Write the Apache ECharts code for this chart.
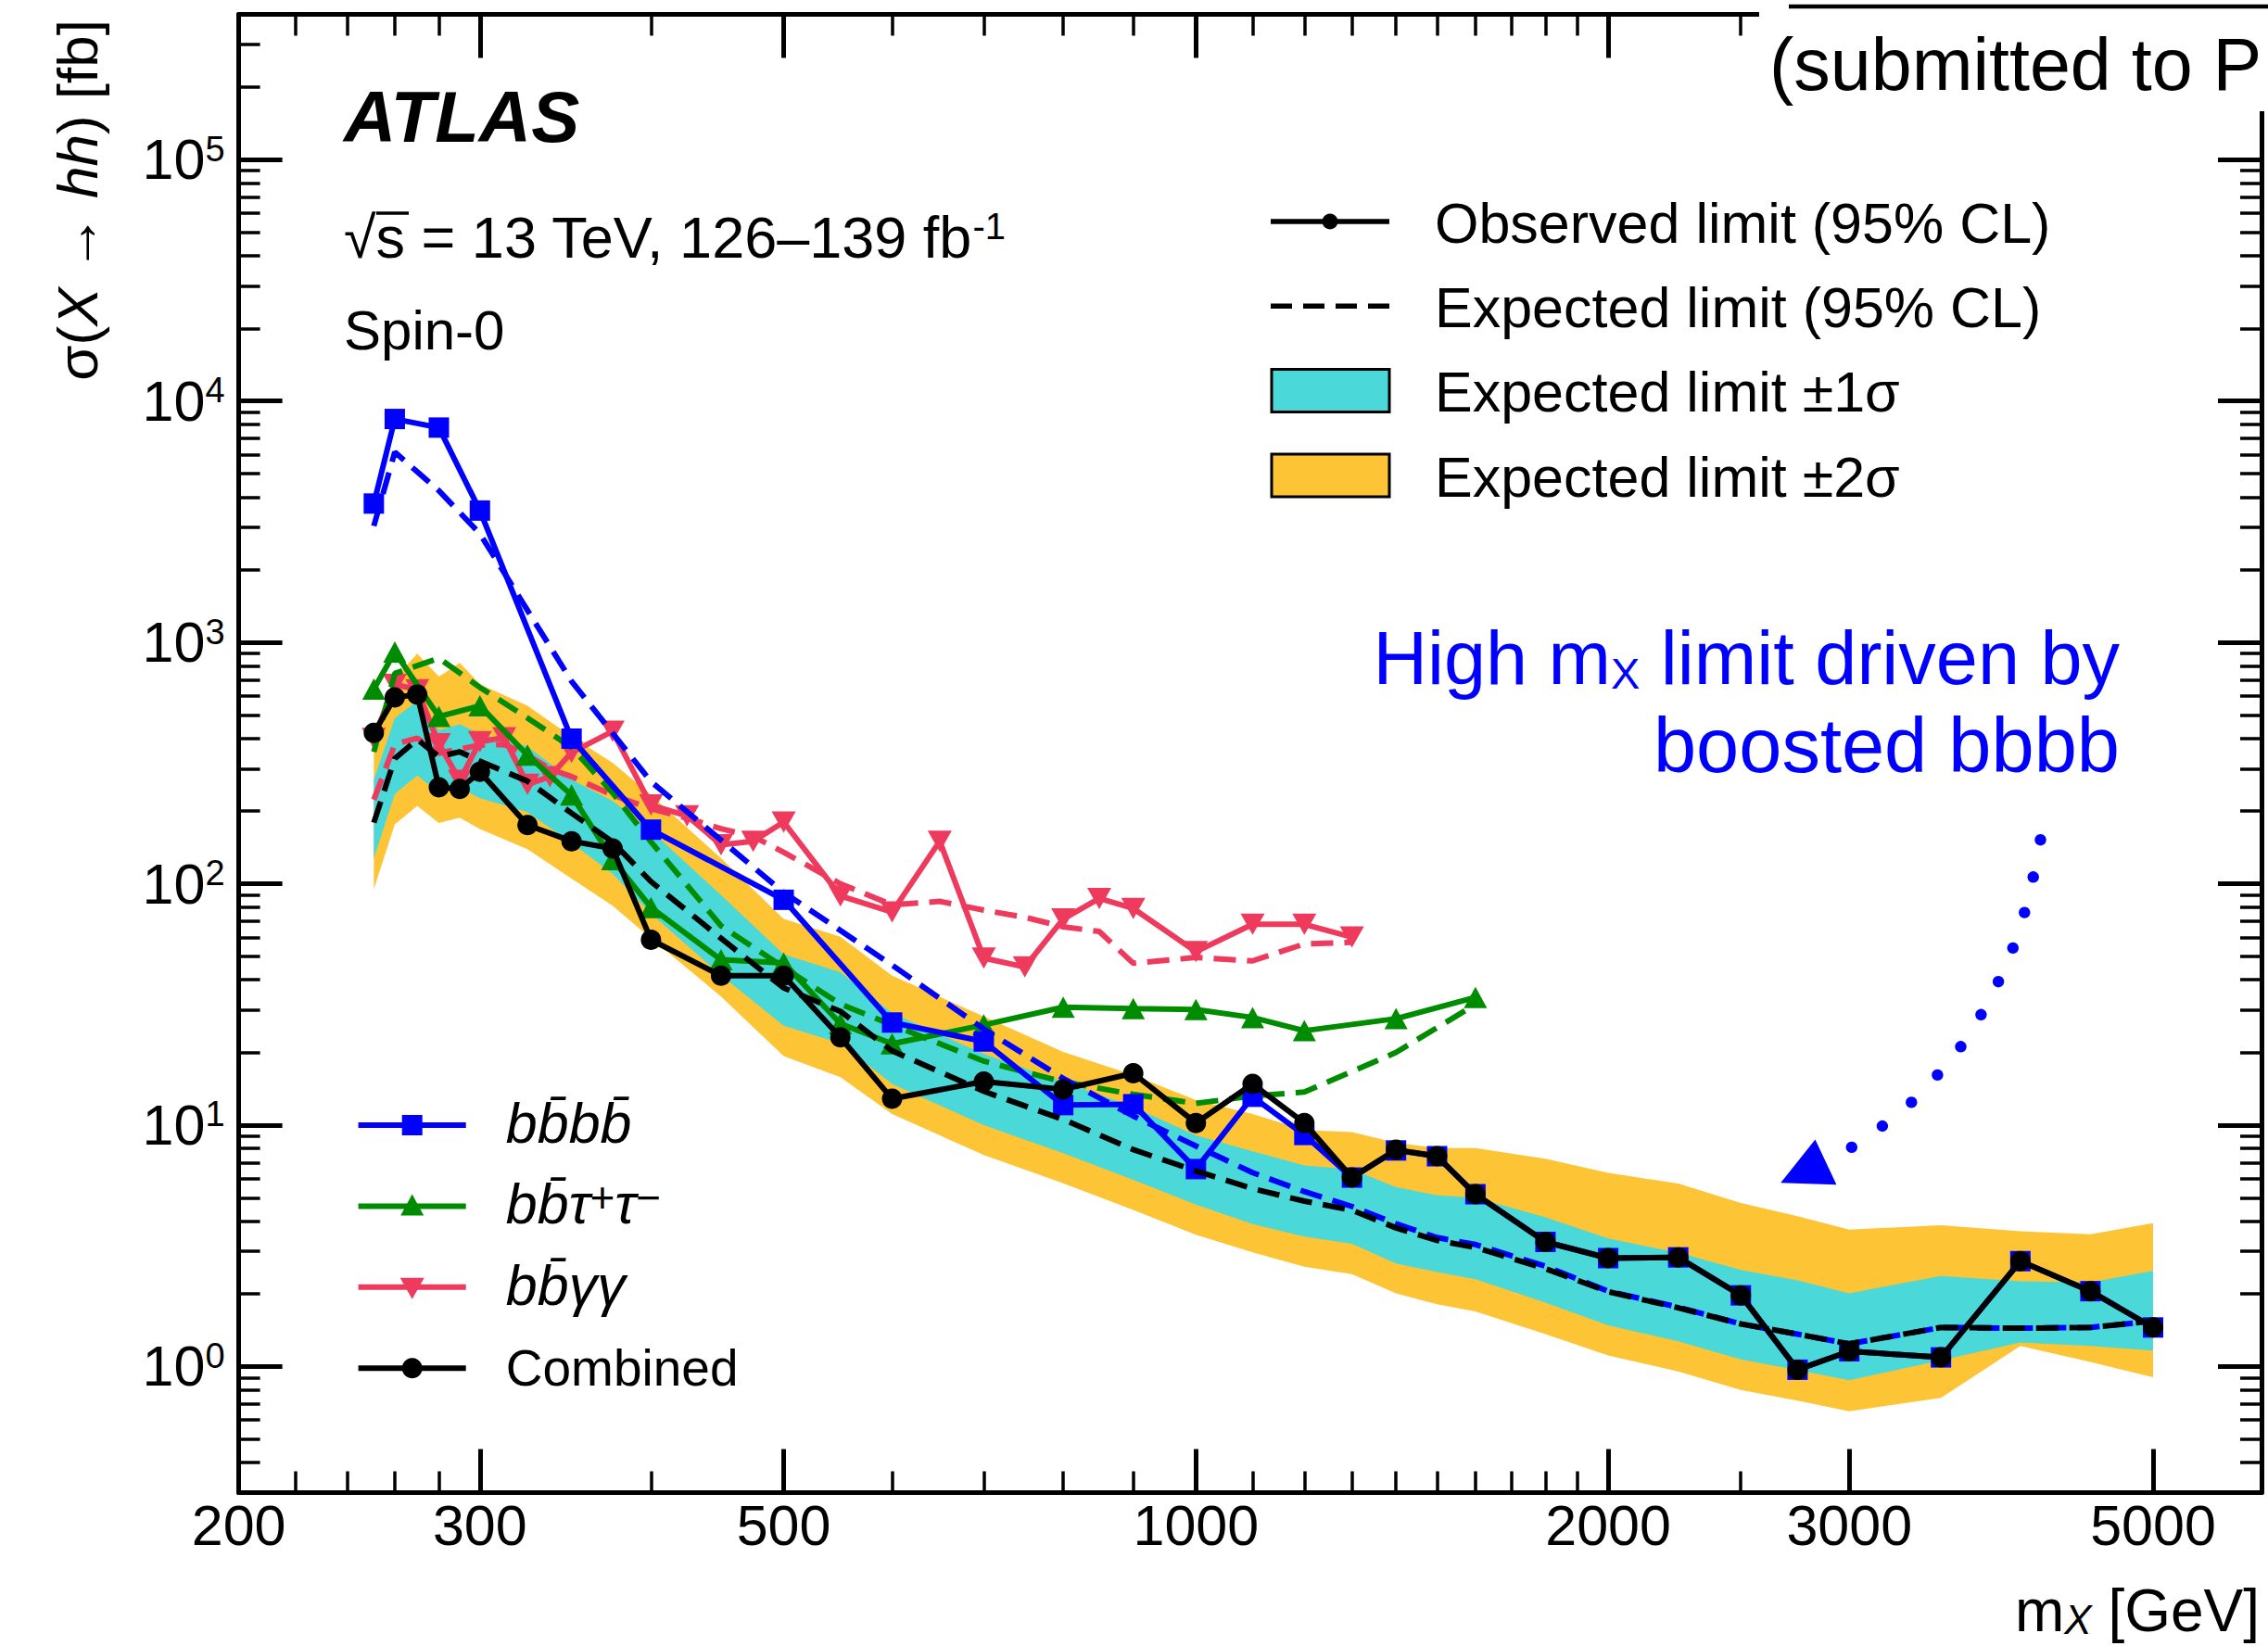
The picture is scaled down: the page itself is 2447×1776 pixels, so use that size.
<!DOCTYPE html>
<html>
<head>
<meta charset="utf-8">
<title>sigma(X to hh) limits</title>
<script src="https://cdn.jsdelivr.net/npm/echarts@6.0.0/dist/echarts.min.js"></script>
<style>
html,body{margin:0;padding:0;background:#ffffff;}
#chart{width:2447px;height:1776px;}
</style>
</head>
<body>
<div id="chart"></div>
<script>
// ---------------- data ----------------
const MASS_COMB = [251,260,270,280,290,300,325,350,375,400,450,500,550,600,700,800,900,1000,1100,1200,1300,1400,1500,1600,1800,2000,2250,2500,2750,3000,3500,4000,4500,5000];
const COMB_OBS  = [422,591,608,251,247,291,175,150,140,58.6,41.6,41.6,23.1,12.85,15.15,14.06,16.4,10.2,14.8,10.2,6.06,7.9,7.43,5.17,3.28,2.81,2.83,1.97,0.969,1.155,1.09,2.73,2.05,1.45];
const COMB_EXP  = [179,330,396,336,352,322,266,196,149,102,59.4,37,29.6,20.3,13.8,10.55,7.91,6.46,5.45,4.84,4.44,3.75,3.33,3.11,2.54,2.04,1.75,1.50,1.36,1.24,1.45,1.44,1.45,1.54];
const COMB_M2   = [95,176,210,178.6,187.7,168.5,139,105,81,59.4,34.1,19.3,15.8,11.1,7.52,5.74,4.45,3.51,2.97,2.59,2.41,2.01,1.81,1.69,1.36,1.11,0.953,0.798,0.721,0.652,0.741,1.216,1.044,0.903];
const COMB_M1   = [127.5,236,281,239,250,226,198,147.7,110,75.2,41.8,25.8,21.8,14.8,10.0,7.65,5.93,4.68,3.89,3.45,3.22,2.67,2.46,2.30,1.84,1.48,1.27,1.07,0.965,0.877,1.06,1.257,1.216,1.163];
const COMB_P1   = [270,486,571,432,458,419,370,270,220,166,89.7,51,43,29.1,19.7,15.1,11.9,9.07,7.78,6.8,6.55,5.53,5.12,5.0,4.15,3.39,2.96,2.51,2.27,2.01,2.37,2.25,2.23,2.49];
const COMB_P2   = [352,711,899,722,823,671,546,407,317,233,127.5,71.5,60.3,41.6,28.2,20.1,16.1,12.7,11.1,9.53,9.35,8.45,8.03,8.03,7.25,6.34,5.72,4.75,4.19,3.69,3.85,3.63,3.53,3.92];

const MASS_BBBB = [251,260,280,300,350,400,500,600,700,800,900,1000,1100,1200,1300,1400,1500,1600,1800,2000,2250,2500,2750,3000,3500,4000,4500,5000];
const BBBB_OBS  = [3760,8425,7760,3517,399,167.5,85.8,26.6,22.2,12.1,12.2,6.57,13.1,9.1,6.06,7.85,7.43,5.17,3.28,2.81,2.83,1.97,0.969,1.155,1.09,2.73,2.05,1.45];
const BBBB_EXP  = [3035,6140,4253,2821,690,265,92,46,25.0,15.6,10.9,8.19,6.35,5.3,4.6,3.9,3.42,3.2,2.6,2.05,1.76,1.50,1.36,1.24,1.45,1.44,1.45,1.54];

const MASS_BBTT = [251,260,280,300,325,350,375,400,450,500,550,600,700,800,900,1000,1100,1200,1400,1600];
const BBTT_OBS  = [641,912,493,546,341,233,126,79.7,48.4,47.0,26.3,21.7,26.0,30.8,30.4,30.1,27.9,24.6,27.6,33.8];
const BBTT_EXP  = [352,743,860,651,486,367,238,149,66.9,45,31.7,26.0,18.4,15.1,13.4,12.3,13.2,13.7,20.0,31.6];

const MASS_BBYY = [251,260,270,280,290,300,312.5,325,337.5,350,375,400,425,450,475,500,550,600,650,700,750,800,850,900,1000,1100,1200,1300];
const BBYY_OBS  = [400,670,636,380,268,388,403,258,278,350,428,212,191,145,150,180,89,76.3,150,49.2,45.2,71.4,86.9,79.0,52.3,67.9,67.9,60.1];
const BBYY_EXP  = [223,378,401,347,362,375,378,341,299,278,233,204.5,187,169,157,135,100,81.7,84.5,77.7,72.6,66.3,63.4,46.8,49.5,47.9,56.3,57.2];

// axis ticks and labels
const X_MAJOR = [200,300,500,1000,2000,3000,5000];
const X_LABELS = ['200','300','500','1000','2000','3000','5000'];
const X_MINOR = [220,240,260,280,400,600,700,800,900,1100,1200,1300,1400,1500,1600,1700,1800,1900,2500];
const Y_MAJOR = [1,10,100,1000,10000,100000];
const Y_EXPONENTS = ['0','1','2','3','4','5'];
const Y_MINOR = [0.3,0.4,0.5,0.6,0.7,0.8,0.9,2,3,4,5,6,7,8,9,20,30,40,50,60,70,80,90,200,300,400,500,600,700,800,900,
                 2000,3000,4000,5000,6000,7000,8000,9000,20000,30000,40000,50000,60000,70000,80000,90000,200000,300000];

// ---------------- styling ----------------
const FAM = '"Liberation Sans", Arial, Helvetica, sans-serif';
const BLUE = '#0000ff', GREEN = '#008c00', PINK = '#ee3a5c', CYAN = '#4ad8d8', YELLOW = '#fdc435', BLACK = '#000000';
const LW = 6;
const DASH = [24, 12];
function font(size, style) { return (style ? style + ' ' : '') + size + 'px ' + FAM; }

const GRID = {left: 257.6, top: 15.5, width: 2182.4, height: 1595};

function xAxisDef(pos, ticks, len, w, showLine, showLabel) {
  return {
    type: 'log', logBase: 10, min: 200, max: 6000, position: pos, gridIndex: 0,
    axisLine: {show: showLine, onZero: false, lineStyle: {color: BLACK, width: 5}},
    axisTick: {show: true, inside: true, length: len, customValues: ticks, lineStyle: {color: BLACK, width: w}},
    axisLabel: showLabel ? {
      show: true, customValues: X_MAJOR, margin: 5, color: BLACK,
      fontFamily: FAM, fontSize: 61, lineHeight: 61, verticalAlign: 'top',
      formatter: function (v) {
        const i = X_MAJOR.findIndex(m => Math.abs(m - v) / m < 1e-6);
        return i >= 0 ? X_LABELS[i] : '';
      }
    } : {show: false},
    splitLine: {show: false}, minorTick: {show: false}, minorSplitLine: {show: false}
  };
}
function yAxisDef(pos, ticks, len, w, showLine, showLabel) {
  return {
    type: 'log', logBase: 10, min: 0.3, max: 400000, position: pos, gridIndex: 0,
    axisLine: {show: showLine, onZero: false, lineStyle: {color: BLACK, width: 5}},
    axisTick: {show: true, inside: true, length: len, customValues: ticks, lineStyle: {color: BLACK, width: w}},
    axisLabel: showLabel ? {
      show: true, customValues: Y_MAJOR, margin: 15, color: BLACK,
      formatter: function (v) {
        const i = Y_MAJOR.findIndex(m => Math.abs(m - v) / m < 1e-6);
        return i >= 0 ? '{b|10}{s|' + Y_EXPONENTS[i] + '}' : '';
      },
      rich: {
        b: {fontFamily: FAM, fontSize: 61, lineHeight: 61, color: BLACK},
        s: {fontFamily: FAM, fontSize: 38, lineHeight: 37, verticalAlign: 'top', color: BLACK}
      }
    } : {show: false},
    splitLine: {show: false}, minorTick: {show: false}, minorSplitLine: {show: false}
  };
}

function bandSeries(lo, hi, color, z) {
  return {
    type: 'custom', xAxisIndex: 0, yAxisIndex: 0, silent: true, animation: false, z: z, clip: true,
    data: MASS_COMB.map((m, i) => [m, lo[i], hi[i]]),
    encode: {x: 0, y: [1, 2]},
    renderItem: function (params, api) {
      if (params.dataIndex !== 0) return null;
      const pts = [];
      for (let i = 0; i < MASS_COMB.length; i++) pts.push(api.coord([MASS_COMB[i], hi[i]]));
      for (let i = MASS_COMB.length - 1; i >= 0; i--) pts.push(api.coord([MASS_COMB[i], lo[i]]));
      return {type: 'polygon', shape: {points: pts}, style: {fill: color}};
    }
  };
}
function lineSeries(name, ms, vs, color, dashed, symbol, size, rotate, z) {
  return {
    type: 'line', name: name, xAxisIndex: 0, yAxisIndex: 0,
    data: ms.map((m, i) => [m, vs[i]]),
    lineStyle: {color: color, width: LW, type: dashed ? DASH : 'solid'},
    itemStyle: {color: color, borderWidth: 0},
    symbol: symbol || 'none', symbolSize: size || 0, symbolRotate: rotate || 0,
    showSymbol: !!symbol, showAllSymbol: true,
    silent: true, animation: false, z: z, clip: true, emphasis: {disabled: true}
  };
}

const series = [
  bandSeries(COMB_M2, COMB_P2, YELLOW, 1),
  bandSeries(COMB_M1, COMB_P1, CYAN, 1.5),
  lineSeries('bbyy exp', MASS_BBYY, BBYY_EXP, PINK, true, null, 0, 0, 3),
  lineSeries('bbyy obs', MASS_BBYY, BBYY_OBS, PINK, false, 'triangle', [26, 23], 180, 3.1),
  lineSeries('bbtautau exp', MASS_BBTT, BBTT_EXP, GREEN, true, null, 0, 0, 3.2),
  lineSeries('bbtautau obs', MASS_BBTT, BBTT_OBS, GREEN, false, 'triangle', [25, 23], 0, 3.3),
  lineSeries('bbbb exp', MASS_BBBB, BBBB_EXP, BLUE, true, null, 0, 0, 3.4),
  lineSeries('bbbb obs', MASS_BBBB, BBBB_OBS, BLUE, false, 'rect', 22, 0, 3.5),
  lineSeries('Expected limit (95% CL)', MASS_COMB, COMB_EXP, BLACK, true, null, 0, 0, 3.6),
  lineSeries('Observed limit (95% CL)', MASS_COMB, COMB_OBS, BLACK, false, 'circle', 22, 0, 3.7)
];

// ---------------- annotations ----------------
function T(x, base, size, text, o) {
  o = o || {};
  return {
    type: 'text', x: x, y: base - 0.3465 * size, z: o.z || 60,
    style: {text: text, font: font(size, o.style), fill: o.fill || BLACK,
            align: o.align || 'left', verticalAlign: 'middle', rich: o.rich}
  };
}
const els = [];
// ATLAS label block
els.push(T(371, 153, 78, 'ATLAS', {style: 'italic bold'}));
els.push(T(371, 277.5, 63, '{a|√s = 13 TeV, 126–139 fb}{s|-1}', {
  rich: {a: {font: font(63), lineHeight: 63}, s: {font: font(40), lineHeight: 33, verticalAlign: 'top'}}
}));
els.push({type: 'line', z: 60, shape: {x1: 406, y1: 230, x2: 441, y2: 230}, style: {stroke: BLACK, lineWidth: 3.5}});
els.push(T(371, 377, 60, 'Spin-0'));

// axis titles
els.push({
  type: 'text', x: 83.5, y: 21, rotation: Math.PI / 2, z: 60,
  style: {text: '{a|σ(}{i|X}{a| → }{i|hh}{a|) [fb]}', fill: BLACK, align: 'right', verticalAlign: 'middle',
          font: font(62), rich: {a: {font: font(62), lineHeight: 62}, i: {font: font(62, 'italic'), lineHeight: 62}}}
});
els.push(T(2438, 1760, 64, '{a|m}{s|X}{a| [GeV]}', {
  align: 'right',
  rich: {a: {font: font(64), lineHeight: 64}, s: {font: font(44, 'italic'), lineHeight: 34, verticalAlign: 'bottom'}}
}));

// top-right legend
const LTR = [239, 330.3, 421.6, 513];
els.push({type: 'line', z: 60, shape: {x1: 1371, y1: LTR[0], x2: 1499, y2: LTR[0]}, style: {stroke: BLACK, lineWidth: 5.5}});
els.push({type: 'circle', z: 61, shape: {cx: 1435, cy: LTR[0], r: 8.5}, style: {fill: BLACK}});
els.push({type: 'line', z: 60, shape: {x1: 1371, y1: LTR[1], x2: 1499, y2: LTR[1]}, style: {stroke: BLACK, lineWidth: 5.5, lineDash: [23, 12]}});
els.push({type: 'rect', z: 60, shape: {x: 1372, y: LTR[2] - 23, width: 127, height: 46}, style: {fill: CYAN, stroke: BLACK, lineWidth: 3}});
els.push({type: 'rect', z: 60, shape: {x: 1372, y: LTR[3] - 23, width: 127, height: 46}, style: {fill: YELLOW, stroke: BLACK, lineWidth: 3}});
els.push(T(1548, LTR[0] + 23, 61, 'Observed limit (95% CL)'));
els.push(T(1548, LTR[1] + 23, 61, 'Expected limit (95% CL)'));
els.push(T(1548, LTR[2] + 23, 61, 'Expected limit ±1σ'));
els.push(T(1548, LTR[3] + 23, 61, 'Expected limit ±2σ'));

// bottom-left legend
const LBL = [1214, 1301.4, 1388.8, 1476.2];
const LX1 = 386.6, LX2 = 502.7, LXC = 444.7, LTX = 545.8;
[[BLUE, 0], [GREEN, 1], [PINK, 2], [BLACK, 3]].forEach(function (p) {
  els.push({type: 'line', z: 60, shape: {x1: LX1, y1: LBL[p[1]], x2: LX2, y2: LBL[p[1]]}, style: {stroke: p[0], lineWidth: LW}});
});
els.push({type: 'rect', z: 61, shape: {x: LXC - 11, y: LBL[0] - 11, width: 22, height: 22}, style: {fill: BLUE}});
els.push({type: 'polygon', z: 61, shape: {points: [[LXC, LBL[1] - 13], [LXC - 12.5, LBL[1] + 10], [LXC + 12.5, LBL[1] + 10]]}, style: {fill: GREEN}});
els.push({type: 'polygon', z: 61, shape: {points: [[LXC, LBL[2] + 13], [LXC - 13, LBL[2] - 10], [LXC + 13, LBL[2] - 10]]}, style: {fill: PINK}});
els.push({type: 'circle', z: 61, shape: {cx: LXC, cy: LBL[3], r: 11}, style: {fill: BLACK}});
els.push(T(LTX, LBL[0] + 19, 61, 'bb\u0304bb\u0304', {style: 'italic'}));
els.push(T(LTX, LBL[1] + 19, 61, '{i|bb\u0304τ}{s|+}{i|τ}{s|−}', {
  rich: {i: {font: font(61, 'italic'), lineHeight: 61}, s: {font: font(46), lineHeight: 40, verticalAlign: 'top'}}
}));
els.push(T(LTX, LBL[2] + 19, 61, 'bb\u0304γγ', {style: 'italic'}));
els.push(T(LTX, LBL[3] + 19, 55, 'Combined'));

// blue annotation
els.push(T(2287, 738, 81, '{a|High m}{s|X}{a| limit driven by}', {
  align: 'right', fill: BLUE,
  rich: {a: {font: font(81), lineHeight: 81, fill: BLUE}, s: {font: font(47), lineHeight: 45, verticalAlign: 'bottom', fill: BLUE}}
}));
els.push(T(2287, 833.4, 83, 'boosted bbbb', {align: 'right', fill: BLUE}));
const DOTS = [[2201.5, 906.2], [2193.7, 946.3], [2184.3, 984.6], [2171.8, 1022.9], [2156.1, 1059.2], [2137.4, 1094.8],
              [2115.5, 1129.3], [2090.4, 1159.9], [2062.3, 1189.4], [2030.9, 1215.0], [1997.8, 1237.9]];
DOTS.forEach(function (d) {
  els.push({type: 'circle', z: 60, shape: {cx: d[0], cy: d[1], r: 6.2}, style: {fill: BLUE}});
});
els.push({type: 'polygon', z: 60, shape: {points: [[1958.5, 1229.5], [1921.2, 1276.3], [1981.4, 1278.2]]}, style: {fill: BLUE}});

// top-right label box covering the frame
els.push({type: 'rect', z: 100, shape: {x: 1898, y: 0, width: 549, height: 120}, style: {fill: '#ffffff'}});
els.push({type: 'line', z: 101, shape: {x1: 1930, y1: 7, x2: 2447, y2: 7}, style: {stroke: BLACK, lineWidth: 4.5}});
els.push(T(1909, 97, 79, '(submitted to P', {z: 101}));

const option = {
  backgroundColor: '#ffffff',
  animation: false,
  grid: Object.assign({containLabel: false, outerBoundsMode: 'none'}, GRID),
  xAxis: [
    xAxisDef('bottom', X_MAJOR, 47, 5, true, true),
    xAxisDef('bottom', X_MINOR, 23, 3.5, false, false),
    xAxisDef('top', X_MAJOR, 47, 5, true, false),
    xAxisDef('top', X_MINOR, 23, 3.5, false, false)
  ],
  yAxis: [
    yAxisDef('left', Y_MAJOR, 47, 5, true, true),
    yAxisDef('left', Y_MINOR, 23, 3.5, false, false),
    yAxisDef('right', Y_MAJOR, 47, 5, true, false),
    yAxisDef('right', Y_MINOR, 23, 3.5, false, false)
  ],
  series: series,
  graphic: {elements: els}
};

const chart = echarts.init(document.getElementById('chart'), null, {renderer: 'svg', width: 2447, height: 1776});
chart.setOption(option);
</script>
</body>
</html>
